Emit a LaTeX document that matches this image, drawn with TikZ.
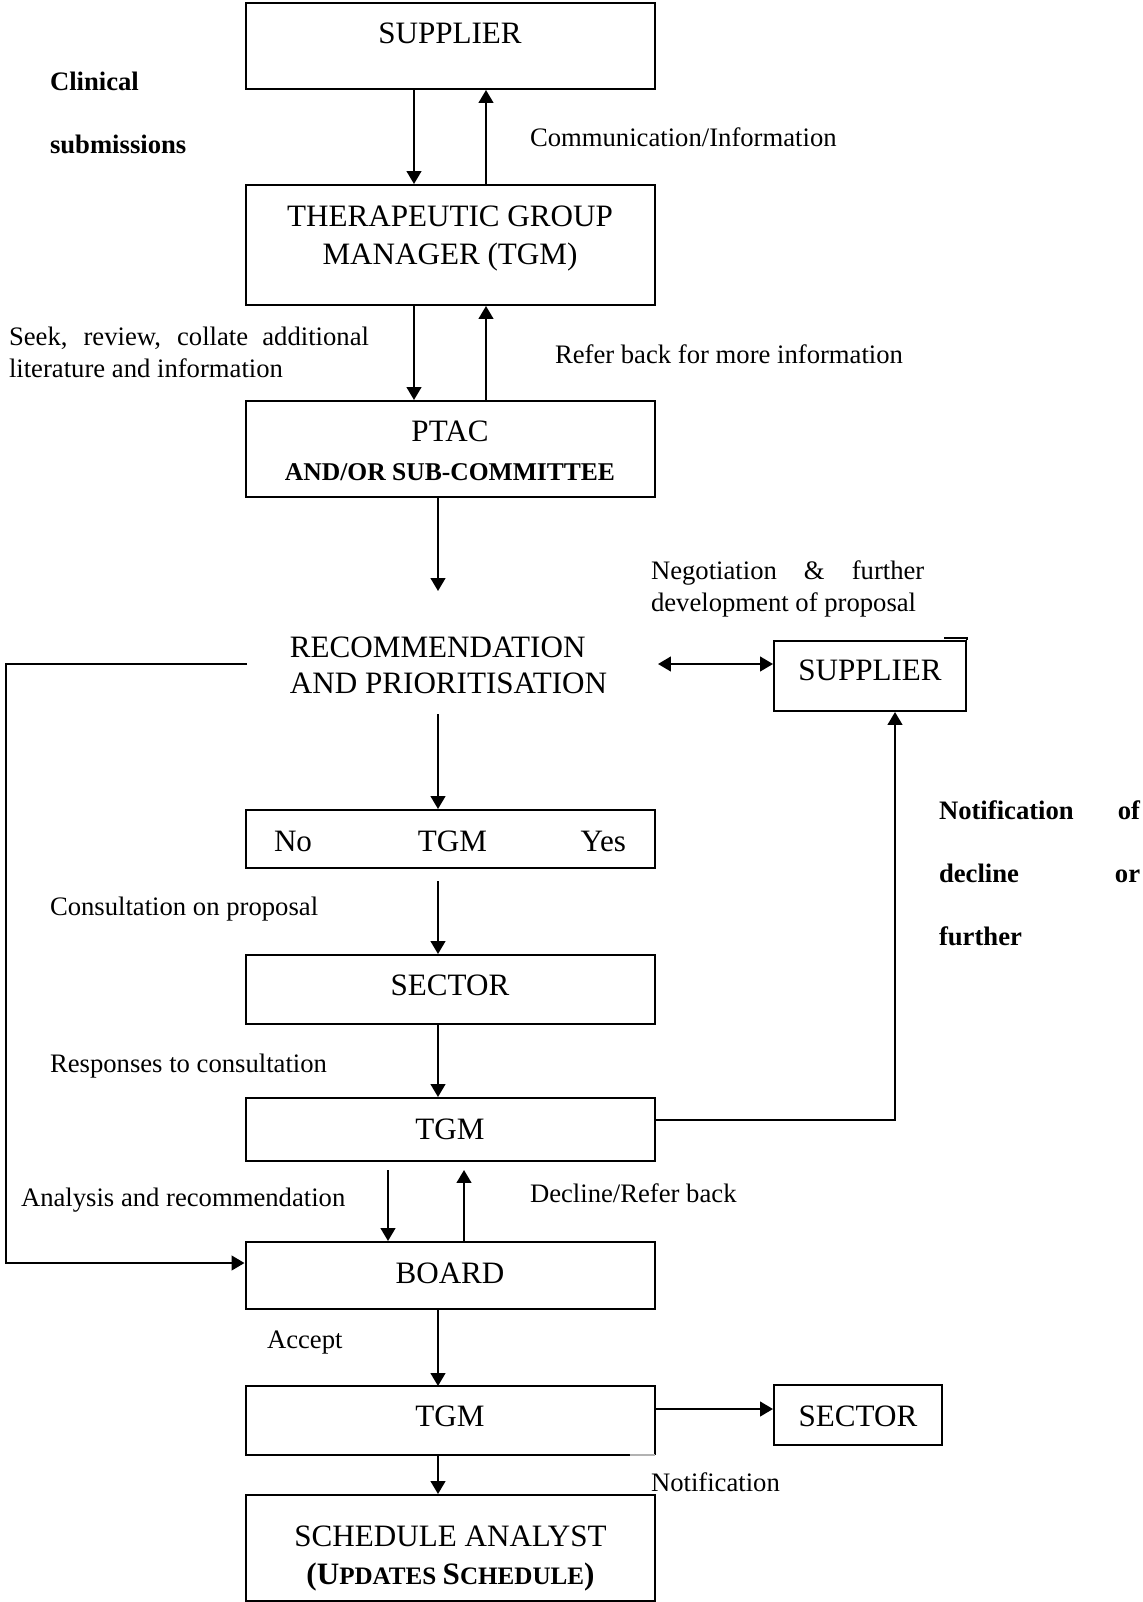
\documentclass[tikz,border=0pt]{standalone}
\usepackage{fontspec}
\setmainfont{Liberation Serif}
\usetikzlibrary{arrows.meta}
\newcommand\twoc[3]{\vtop{\baselineskip=#1\lineskiplimit=-30pt\lineskip=0pt\halign{\hfil##\hfil\cr#2\cr#3\cr}}}
\newcommand\twol[3]{\vtop{\baselineskip=#1\lineskiplimit=-30pt\lineskip=0pt\halign{##\hfil\cr#2\cr#3\cr}}}
\newcommand\threel[4]{\vtop{\baselineskip=#1\lineskiplimit=-30pt\lineskip=0pt\halign{##\hfil\cr#2\cr#3\cr#4\cr}}}
\newcommand\bigf{\fontsize{14}{17}\selectfont}
\newcommand\smf{\fontsize{11.3}{13}\selectfont}
\begin{document}
\begin{tikzpicture}[x=0.45pt,y=-0.45pt,line width=0.9pt,
  >={Triangle[length=5.8pt,width=6.6pt]},
  bx/.style n args={3}{draw,rectangle,inner sep=0pt,minimum width=#1,text height=#2,text depth=#3,font=\bigf},
  lbl/.style={inner sep=0pt,anchor=base west,font=\fontsize{12}{14}\selectfont}]
\useasboundingbox (0,0) rectangle (1143,1602);
% coordinates for connector positions
\coordinate (xa) at (414,0);
\coordinate (xb) at (486,0);
\coordinate (xc) at (438,0);
\coordinate (xd) at (388,0);
\coordinate (xe) at (464,0);
\coordinate (xr) at (895,0);
\coordinate (yl) at (0,664);
\coordinate (yr) at (0,1120);
\coordinate (y4) at (0,1409);
\coordinate (lx) at (6,1263);
% boxes
\node[bx={184.05pt}{18.45pt}{20.25pt}] (sup) at (450,46) {SUPPLIER};
\node[bx={184.05pt}{18.9pt}{35.1pt}] (tgm) at (450,245) {\twoc{17.1pt}{THERAPEUTIC GROUP}{MANAGER (TGM)}};
\node[bx={184.05pt}{18pt}{25.2pt}] (ptac) at (450,449) {\twoc{17.55pt}{PTAC}{\fontsize{11.5}{13}\selectfont\bfseries AND/OR SUB-COMMITTEE}};
\node[inner sep=0pt,minimum width=184.05pt,text height=29.25pt,text depth=25.2pt,font=\bigf] (rec) at (452.5,652.5) {\twol{16.2pt}{RECOMMENDATION}{AND PRIORITISATION}\kern3.6pt};
\node[bx={86.4pt}{17.55pt}{13.95pt}] (sup2) at (870,676) {SUPPLIER};
\node[bx={184.05pt}{18.45pt}{7.65pt}] (ntgm) at (450,839) {\hbox to 158.4pt{No\hfil\hskip5.4pt TGM\hfil Yes}};
\node[bx={184.05pt}{18pt}{13.05pt}] (sect) at (450,989.5) {SECTOR};
\node[bx={184.05pt}{18.45pt}{9.9pt}] (tgm3) at (450,1129.5) {TGM};
\node[bx={184.05pt}{18.45pt}{11.7pt}] (board) at (450,1275.5) {BOARD};
\node[bx={184.05pt}{18pt}{13.05pt},draw=none,outer sep=0pt] (tgm4) at (450,1420.5) {TGM};
\node[bx={75.6pt}{18.45pt}{8.55pt}] (sect2) at (858,1415) {SECTOR};
\node[bx={184.05pt}{22.95pt}{24.75pt}] (sched) at (450.5,1548) {\twoc{17.1pt}{SCHEDULE ANALYST}{\bfseries(U\smf PDATES \bigf S\smf CHEDULE\bigf)}};
% irregular borders
\draw ([xshift=-11.25pt]tgm4.south east) -- (tgm4.south west) -- (tgm4.north west) -- (tgm4.north east) -- (tgm4.south east);
\draw[black!30,line width=0.5pt] ([xshift=-11.25pt]tgm4.south east) -- (tgm4.south east);
\draw ([shift={(-23,-1.7)}]sup2.north east) -- ([shift={(0,-1.7)}]sup2.north east) -- (sup2.north east);
% labels
\node[lbl] (l1) at (49,91) {\bfseries\twol{28.35pt}{Clinical}{submissions}};
\node[lbl] (l2) at (529,147) {Communication/Information};
\node[lbl] (l3) at (8,345) {\twol{14.4pt}{\makebox[162pt][s]{Seek, review, collate additional}}{literature and information}};
\node[lbl] (l4) at (554,363) {Refer back for more information};
\node[lbl] (l5) at (650,579) {\twol{14.4pt}{\makebox[123pt][s]{Negotiation \& further}}{development of proposal}};
\node[lbl] (l6) at (938,819) {\bfseries\threel{28.35pt}{\makebox[90.5pt][s]{Notification of}}{\makebox[90.5pt][s]{decline or}}{further}};
\node[lbl] (l7) at (49,915) {Consultation on proposal};
\node[lbl] (l8) at (49,1072) {Responses to consultation};
\node[lbl] (l9) at (20,1206) {Analysis and recommendation};
\node[lbl] (l10) at (529,1202) {Decline/Refer back};
\node[lbl] (l11) at (266,1348) {Accept};
\node[lbl] (l12) at (650,1491) {Notification};
% connectors
\draw[->] (sup.south -| xa) -- (tgm.north -| xa);
\draw[->] (tgm.north -| xb) -- (sup.south -| xb);
\draw[->] (tgm.south -| xa) -- (ptac.north -| xa);
\draw[->] (ptac.north -| xb) -- (tgm.south -| xb);
\draw[->] (ptac.south -| xc) -- (rec.north -| xc);
\draw[->] (rec.south -| xc) -- (ntgm.north -| xc);
\draw[->,shorten <=5.4pt] (ntgm.south -| xc) -- (sect.north -| xc);
\draw[->] (sect.south -| xc) -- (tgm3.north -| xc);
\draw[->,shorten <=3.6pt] (tgm3.south -| xd) -- (board.north -| xd);
\draw[->,shorten >=3.6pt] (board.north -| xe) -- (tgm3.south -| xe);
\draw[->] (board.south -| xc) -- (tgm4.north -| xc);
\draw[->] (tgm4.south -| xc) -- (sched.north -| xc);
\draw[->] (tgm4.east |- y4) -- (sect2.west |- y4);
\draw[->] (tgm3.east |- yr) -| (sup2.south -| xr);
\draw[<->] (rec.east |- yl) -- (sup2.west |- yl);
\draw[->] (rec.west |- yl) -| (lx) -- (board.west |- lx);
\end{tikzpicture}
\end{document}
